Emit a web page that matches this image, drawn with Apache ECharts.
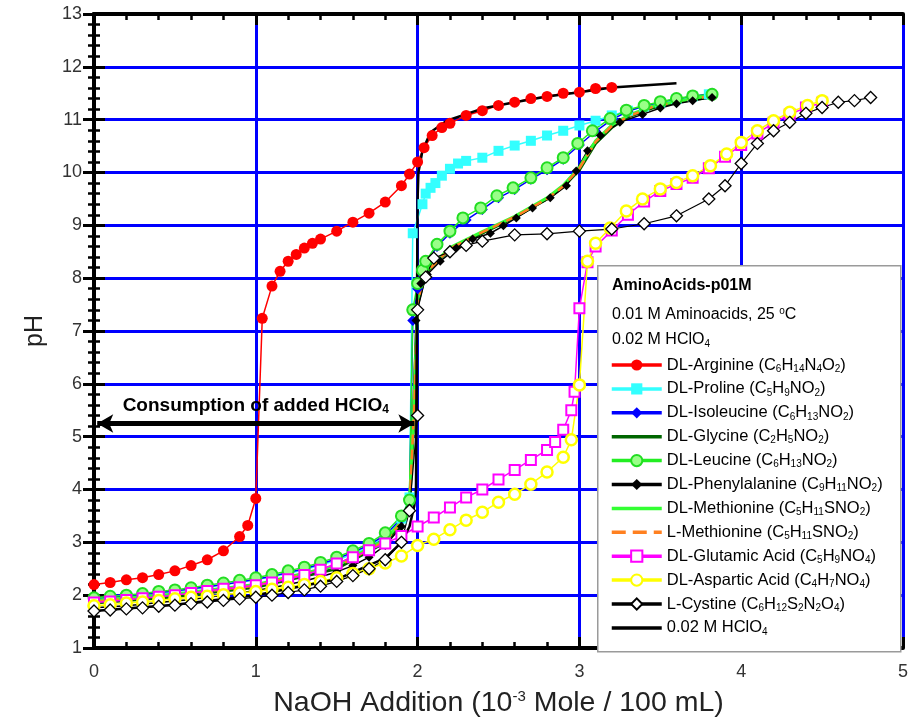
<!DOCTYPE html>
<html>
<head>
<meta charset="utf-8">
<script src="https://cdn.jsdelivr.net/npm/echarts@6/dist/echarts.min.js"></script>
<style>html,body{margin:0;padding:0;background:#fff;}#c{width:914px;height:724px;}</style>
</head>
<body>
<div id="c"></div>
<script>
// ---------- data ----------
const xTicks = [0, 1, 2, 3, 4, 5];
const yTicks = [1, 2, 3, 4, 5, 6, 7, 8, 9, 10, 11, 12, 13];

const seriesNames = ['DL-Arginine', 'DL-Proline', 'DL-Isoleucine', 'DL-Glycine', 'DL-Leucine',
  'DL-Phenylalanine', 'DL-Methionine', 'L-Methionine', 'DL-Glutamic Acid', 'DL-Aspartic Acid',
  'L-Cystine', '0.02 M HClO4'];
const formulas = ['C6H14N4O2', 'C5H9NO2', 'C6H13NO2', 'C2H5NO2', 'C6H13NO2', 'C9H11NO2',
  'C5H11SNO2', 'C5H11SNO2', 'C5H9NO4', 'C4H7NO4', 'C6H12S2N2O4', ''];

const arginine = [[0,2.2],[0.1,2.24],[0.2,2.29],[0.3,2.33],[0.4,2.39],[0.5,2.46],[0.6,2.56],[0.7,2.67],[0.8,2.84],[0.9,3.11],[0.95,3.32],[1.0,3.83],[1.04,7.24],[1.1,7.85],[1.15,8.13],[1.2,8.32],[1.25,8.45],[1.3,8.57],[1.35,8.66],[1.4,8.74],[1.5,8.89],[1.6,9.06],[1.7,9.23],[1.8,9.44],[1.9,9.75],[1.95,9.97],[2.0,10.2],[2.04,10.47],[2.09,10.7],[2.15,10.85],[2.2,10.93],[2.3,11.08],[2.4,11.17],[2.5,11.27],[2.6,11.33],[2.7,11.4],[2.8,11.44],[2.9,11.5],[3.0,11.52],[3.1,11.59],[3.2,11.61]];
const proline = [[0,1.92],[0.1,1.95],[0.2,1.98],[0.3,2.0],[0.4,2.04],[0.5,2.07],[0.6,2.11],[0.7,2.15],[0.8,2.2],[0.9,2.24],[1.0,2.29],[1.1,2.35],[1.2,2.41],[1.3,2.48],[1.4,2.57],[1.5,2.66],[1.6,2.78],[1.7,2.92],[1.8,3.12],[1.9,3.45],[1.95,3.85],[1.97,8.85],[2.03,9.4],[2.05,9.6],[2.08,9.71],[2.11,9.8],[2.15,9.94],[2.2,10.07],[2.25,10.17],[2.3,10.22],[2.4,10.28],[2.5,10.41],[2.6,10.51],[2.7,10.6],[2.8,10.7],[2.9,10.79],[3.0,10.89],[3.1,10.98],[3.2,11.08],[3.3,11.17],[3.4,11.25],[3.5,11.32],[3.6,11.39],[3.7,11.44],[3.8,11.48]];
const isoleucine = [[0,1.93],[0.1,1.96],[0.2,1.98],[0.3,2.01],[0.4,2.05],[0.5,2.08],[0.6,2.12],[0.7,2.16],[0.8,2.2],[0.9,2.25],[1.0,2.3],[1.1,2.36],[1.2,2.43],[1.3,2.5],[1.4,2.59],[1.5,2.69],[1.6,2.81],[1.7,2.95],[1.8,3.14],[1.9,3.45],[1.95,3.75],[1.97,7.2],[2.0,7.8],[2.03,8.1],[2.06,8.3],[2.12,8.6],[2.2,8.85],[2.3,9.1],[2.4,9.3],[2.5,9.52],[2.6,9.68],[2.7,9.87],[2.8,10.05],[2.9,10.25],[3.0,10.52],[3.1,10.78],[3.2,11.0],[3.3,11.16],[3.4,11.26],[3.5,11.33],[3.6,11.39],[3.7,11.44],[3.82,11.5]];
const glycine = [[0,1.85],[0.5,1.97],[1.0,2.15],[1.5,2.5],[1.8,3.0],[1.9,3.35],[1.95,3.7],[1.98,5.5],[2.0,7.5],[2.05,8.1],[2.2,8.55],[2.4,8.85],[2.6,9.15],[2.8,9.5],[2.9,9.73],[3.0,10.05],[3.1,10.55],[3.2,10.85],[3.3,11.05],[3.45,11.22],[3.6,11.33],[3.8,11.42]];
const leucine = [[0,1.95],[0.1,1.98],[0.2,2.0],[0.3,2.03],[0.4,2.07],[0.5,2.1],[0.6,2.14],[0.7,2.19],[0.8,2.23],[0.9,2.28],[1.0,2.33],[1.1,2.39],[1.2,2.46],[1.3,2.53],[1.4,2.62],[1.5,2.72],[1.6,2.84],[1.7,2.98],[1.8,3.18],[1.9,3.5],[1.95,3.8],[1.97,7.4],[2.0,7.9],[2.03,8.15],[2.05,8.32],[2.12,8.64],[2.2,8.89],[2.28,9.14],[2.39,9.33],[2.49,9.56],[2.59,9.71],[2.7,9.9],[2.8,10.09],[2.9,10.28],[2.99,10.55],[3.08,10.79],[3.19,11.02],[3.29,11.18],[3.4,11.27],[3.5,11.34],[3.6,11.4],[3.7,11.45],[3.82,11.48]];
const phenylalanine = [[0,1.76],[0.1,1.78],[0.2,1.8],[0.3,1.83],[0.4,1.86],[0.5,1.89],[0.6,1.92],[0.7,1.96],[0.8,2.0],[0.9,2.04],[1.0,2.09],[1.1,2.14],[1.2,2.2],[1.3,2.27],[1.4,2.35],[1.5,2.44],[1.6,2.56],[1.7,2.72],[1.8,2.94],[1.9,3.3],[1.95,3.65],[1.99,7.2],[2.02,7.9],[2.06,8.07],[2.14,8.32],[2.24,8.57],[2.34,8.74],[2.45,8.85],[2.53,8.99],[2.61,9.14],[2.71,9.33],[2.82,9.52],[2.92,9.75],[2.98,10.03],[3.05,10.41],[3.13,10.7],[3.25,10.95],[3.39,11.1],[3.5,11.22],[3.6,11.3],[3.7,11.36],[3.82,11.42]];
const dlMethionine = [[0,1.9],[0.5,2.02],[1.0,2.2],[1.5,2.56],[1.8,3.05],[1.9,3.4],[1.95,3.75],[1.98,5.8],[2.0,7.6],[2.05,8.12],[2.2,8.58],[2.4,8.88],[2.6,9.17],[2.8,9.52],[2.9,9.76],[3.0,10.1],[3.1,10.6],[3.2,10.9],[3.3,11.08],[3.45,11.25],[3.6,11.35],[3.8,11.45]];
const lMethionine = [[0,1.88],[0.5,2.0],[1.0,2.18],[1.5,2.54],[1.8,3.02],[1.9,3.38],[1.95,3.72],[1.98,5.6],[2.0,7.55],[2.05,8.1],[2.2,8.56],[2.4,8.87],[2.6,9.16],[2.8,9.5],[2.9,9.74],[3.0,10.08],[3.1,10.58],[3.2,10.88],[3.3,11.06],[3.45,11.24],[3.6,11.34],[3.8,11.44]];
const glutamic = [[0,1.86],[0.1,1.88],[0.2,1.91],[0.3,1.94],[0.4,1.97],[0.5,2.0],[0.6,2.04],[0.7,2.08],[0.8,2.12],[0.9,2.15],[1.0,2.19],[1.1,2.24],[1.2,2.3],[1.3,2.38],[1.4,2.48],[1.5,2.6],[1.6,2.72],[1.7,2.85],[1.8,2.98],[1.9,3.12],[2.0,3.3],[2.1,3.47],[2.2,3.66],[2.3,3.85],[2.4,4.0],[2.5,4.19],[2.6,4.37],[2.7,4.56],[2.8,4.75],[2.85,4.9],[2.9,5.13],[2.95,5.5],[2.97,5.85],[3.0,7.43],[3.05,8.3],[3.1,8.6],[3.2,8.9],[3.3,9.2],[3.4,9.45],[3.5,9.65],[3.6,9.78],[3.7,9.9],[3.8,10.08],[3.9,10.3],[4.0,10.52],[4.1,10.74],[4.2,10.94],[4.3,11.1],[4.4,11.23],[4.5,11.32]];
const aspartic = [[0,1.8],[0.1,1.82],[0.2,1.85],[0.3,1.87],[0.4,1.9],[0.5,1.93],[0.6,1.96],[0.7,1.98],[0.8,2.01],[0.9,2.04],[1.0,2.07],[1.1,2.11],[1.2,2.15],[1.3,2.2],[1.4,2.26],[1.5,2.33],[1.6,2.41],[1.7,2.5],[1.8,2.61],[1.9,2.74],[2.0,2.94],[2.1,3.06],[2.2,3.24],[2.3,3.42],[2.4,3.57],[2.5,3.76],[2.6,3.91],[2.7,4.1],[2.8,4.33],[2.9,4.61],[2.95,4.94],[3.0,5.98],[3.05,8.32],[3.1,8.66],[3.19,8.95],[3.29,9.27],[3.39,9.5],[3.5,9.69],[3.6,9.81],[3.7,9.94],[3.81,10.13],[3.91,10.35],[4.0,10.57],[4.1,10.79],[4.2,10.98],[4.3,11.14],[4.41,11.27],[4.5,11.36]];
const cystine = [[0,1.7],[0.1,1.72],[0.2,1.74],[0.3,1.76],[0.4,1.79],[0.5,1.81],[0.6,1.84],[0.7,1.87],[0.8,1.9],[0.9,1.93],[1.0,1.96],[1.1,2.0],[1.2,2.05],[1.3,2.1],[1.4,2.17],[1.5,2.26],[1.6,2.37],[1.7,2.5],[1.8,2.67],[1.9,3.0],[1.95,3.6],[2.0,5.4],[2.0,7.4],[2.05,8.02],[2.1,8.38],[2.2,8.5],[2.3,8.62],[2.4,8.7],[2.6,8.82],[2.8,8.84],[3.0,8.89],[3.2,8.93],[3.4,9.03],[3.6,9.18],[3.8,9.5],[3.9,9.75],[4.0,10.17],[4.1,10.55],[4.2,10.79],[4.3,10.95],[4.4,11.12],[4.5,11.23],[4.6,11.33],[4.7,11.36],[4.8,11.42]];
const hclo4 = [[0,1.7],[0.5,1.82],[1.0,2.0],[1.5,2.3],[1.8,2.7],[1.9,3.0],[1.95,3.3],[1.98,3.7],[1.99,4.0],[1.995,7.0],[2.0,9.5],[2.005,10.0],[2.03,10.41],[2.08,10.76],[2.18,10.98],[2.4,11.21],[2.6,11.33],[2.8,11.44],[3.0,11.52],[3.2,11.61],[3.6,11.69]];

const arrowSpan = [[0.02, 5.25], [1.98, 5.25]];

// ---------- chart ----------
const FONT = '"Liberation Sans", Arial, sans-serif';
const chart = echarts.init(document.getElementById('c'), null, {renderer: 'canvas'});

function subify(f) { return f.replace(/(\d+)/g, '{s|$1}'); }

const styles = [
  {symbol: 'circle', size: 11, fill: '#ff0000', border: '#ff0000', bw: 0, line: '#ff0000', lw: 1.5},
  {symbol: 'rect', size: 10, fill: '#33ffff', border: '#33ffff', bw: 0, line: '#33ffff', lw: 1.5},
  {symbol: 'diamond', size: 11, fill: '#0000ff', border: '#0000ff', bw: 0, line: '#0000ff', lw: 1.5},
  {symbol: 'none', line: '#006600', lw: 3},
  {symbol: 'circle', size: 11, fill: '#99ff88', border: '#22dd22', bw: 2, line: '#22ee22', lw: 1.5},
  {symbol: 'diamond', size: 9, fill: '#000000', border: '#000000', bw: 0, line: '#000000', lw: 1.5},
  {symbol: 'none', line: '#33ff33', lw: 3},
  {symbol: 'none', line: '#ff8020', lw: 2.5, dash: 'dashed'},
  {symbol: 'rect', size: 10, fill: '#ffffff', border: '#ff00ff', bw: 2, line: '#ff00ff', lw: 1.5},
  {symbol: 'circle', size: 11, fill: '#ffffff', border: '#ffff00', bw: 2.5, line: '#ffff00', lw: 1.5},
  {symbol: 'diamond', size: 12, fill: '#ffffff', border: '#000000', bw: 1.3, line: '#000000', lw: 1.2},
  {symbol: 'none', line: '#000000', lw: 2.5}
];
const dataSets = [arginine, proline, isoleucine, glycine, leucine, phenylalanine,
  dlMethionine, lMethionine, glutamic, aspartic, cystine, hclo4];

const series = seriesNames.map((n, i) => {
  const s = styles[i];
  return {
    name: n, type: 'line', data: dataSets[i],
    symbol: s.symbol, symbolSize: s.size || 0, showSymbol: s.symbol !== 'none',
    itemStyle: {color: s.fill || s.line, borderColor: s.border || s.line, borderWidth: s.bw || 0},
    lineStyle: {color: s.line, width: s.lw, type: s.dash || 'solid'},
    emphasis: {disabled: true}, z: 3
  };
});

series.push({
  name: 'arrow', type: 'line', data: [], silent: true,
  markLine: {
    silent: true, animation: false,
    symbol: ['arrow', 'arrow'], symbolSize: [14, 16],
    lineStyle: {color: '#000', width: 5, type: 'solid'},
    label: {
      show: true, position: 'middle', distance: 8,
      formatter: 'Consumption of added HClO{s|4}',
      fontFamily: FONT, fontSize: 19, fontWeight: 'bold', color: '#000',
      rich: {s: {fontSize: 12, fontWeight: 'bold', verticalAlign: 'bottom', lineHeight: 12}}
    },
    data: [[{coord: arrowSpan[0]}, {coord: arrowSpan[1]}]]
  }
});

const axisLineStyle = {color: '#000', width: 4};
const tickCommon = {show: true, inside: true, length: 11, lineStyle: {color: '#000', width: 3}};
const minorCommon = {show: true, splitNumber: 5, length: 6, lineStyle: {color: '#000', width: 2.5}};

const legendData = seriesNames.map((n, i) => styles[i].symbol === 'none'
  ? {name: n, itemStyle: {opacity: 0}}
  : {name: n});

const option = {
  animation: false,
  backgroundColor: '#fff',
  textStyle: {fontFamily: FONT},
  grid: {left: 94, right: 11, top: 14, bottom: 76},
  xAxis: [
    {
      type: 'value', min: xTicks[0], max: xTicks[xTicks.length - 1], interval: 1, position: 'bottom',
      axisLine: {lineStyle: axisLineStyle}, axisTick: tickCommon, minorTick: minorCommon,
      splitLine: {show: true, lineStyle: {color: '#0000ff', width: 3}},
      axisLabel: {fontSize: 18, color: '#333', margin: 15, fontFamily: FONT},
      name: 'NaOH Addition (10{sup|-3} Mole / 100 mL)', nameLocation: 'middle', nameGap: 41,
      nameTextStyle: {fontSize: 28.5, color: '#222', fontFamily: FONT,
        rich: {sup: {fontSize: 15, verticalAlign: 'top', lineHeight: 15}}}
    },
    {
      type: 'value', min: xTicks[0], max: xTicks[xTicks.length - 1], interval: 1, position: 'top',
      axisLine: {lineStyle: axisLineStyle}, axisTick: tickCommon, minorTick: minorCommon,
      splitLine: {show: false}, axisLabel: {show: false}
    }
  ],
  yAxis: [
    {
      type: 'value', min: yTicks[0], max: yTicks[yTicks.length - 1], interval: 1, position: 'left',
      axisLine: {lineStyle: axisLineStyle}, axisTick: tickCommon, minorTick: minorCommon,
      splitLine: {show: true, lineStyle: {color: '#0000ff', width: 3}},
      axisLabel: {fontSize: 18, color: '#333', margin: 12, fontFamily: FONT},
      name: 'pH', nameLocation: 'middle', nameGap: 46,
      nameTextStyle: {fontSize: 25, color: '#222', fontFamily: FONT}
    },
    {
      type: 'value', min: yTicks[0], max: yTicks[yTicks.length - 1], interval: 1, position: 'right',
      axisLine: {lineStyle: axisLineStyle}, axisTick: tickCommon, minorTick: minorCommon,
      splitLine: {show: false}, axisLabel: {show: false}
    }
  ],
  legend: {
    data: legendData, orient: 'vertical', left: 605, top: 351,
    itemWidth: 50, itemHeight: 14, itemGap: 5.9, z: 30, selectedMode: false,
    lineStyle: {width: 3.5},
    formatter: function (name) {
      const i = seriesNames.indexOf(name);
      if (!formulas[i]) return '0.02 M HClO{s|4}';
      return name + ' (' + subify(formulas[i]) + ')';
    },
    textStyle: {fontSize: 16.5, color: '#000', fontFamily: FONT, lineHeight: 18,
      rich: {s: {fontSize: 10, verticalAlign: 'bottom', lineHeight: 10}}}
  },
  graphic: [
    {type: 'rect', left: 597, top: 265, z: 20,
      shape: {width: 303, height: 386},
      style: {fill: '#fff', stroke: '#9a9a9a', lineWidth: 1.5}},
    {type: 'text', left: 612, top: 278, z: 31,
      style: {text: 'AminoAcids-p01M', fontFamily: FONT, fontSize: 16, fontWeight: 'bold', fill: '#000'}},
    {type: 'text', left: 612, top: 306, z: 31,
      style: {text: '0.01 M Aminoacids, 25 {sup|o}C', fontFamily: FONT, fontSize: 16, fill: '#000', lineHeight: 18,
        rich: {sup: {fontSize: 10, verticalAlign: 'top', lineHeight: 10}}}},
    {type: 'text', left: 612, top: 331, z: 31,
      style: {text: '0.02 M HClO{s|4}', fontFamily: FONT, fontSize: 16, fill: '#000', lineHeight: 18,
        rich: {s: {fontSize: 10, verticalAlign: 'bottom', lineHeight: 10}}}}
  ],
  series: series
};
chart.setOption(option);
</script>
</body>
</html>
